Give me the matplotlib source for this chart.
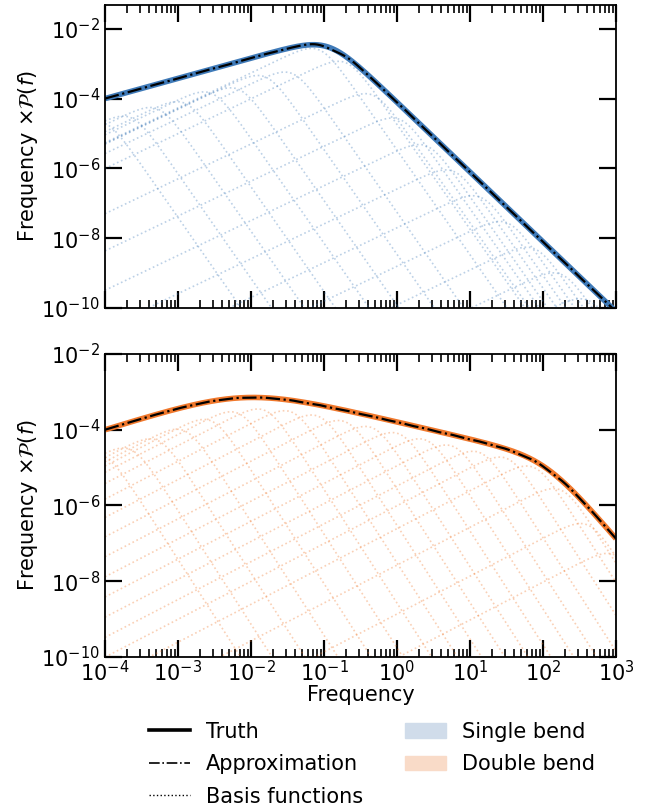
import numpy as np
import matplotlib
matplotlib.use("Agg")
import matplotlib.pyplot as plt
from matplotlib.lines import Line2D
from matplotlib.patches import Patch
from matplotlib.ticker import LogLocator, NullLocator, NullFormatter, FixedLocator

# ---- data ----
freq_range = [1e-4, 1e3]          # plotted frequency range
norm_point = [1e-4, 1e-4]         # f*P(f) at the left edge (both panels)

# single bending power law: low index, high index; bend frequency
single_indices = [0.42, 3.0]
single_bends = [0.115]

# double bending power law
double_indices = [0.4, 1.45, 3.25]
double_bends = [0.0081, 110.0]

# basis functions (SHO-like, 1/(1+(f/f_j)^4)), log-spaced centres
n_basis = 20
basis_lo, basis_hi = 1e-4, 1e3

y_ticks = [1e-10, 1e-8, 1e-6, 1e-4, 1e-2]

colors = {"single": "#3f7ab8", "double": "#f0782c"}
patch_colors = {"single": "#d0dcea", "double": "#f9dbc8"}


def bending_pl(f, indices, bends):
    p = f ** (-indices[0])
    for k, fb in enumerate(bends):
        p = p / (1.0 + (f / fb) ** (indices[k + 1] - indices[k]))
    return p


def normed(f, indices, bends):
    a = norm_point[1] / (norm_point[0] * bending_pl(np.array([norm_point[0]]), indices, bends)[0])
    return a * bending_pl(f, indices, bends)


def basis(f, fj):
    return 1.0 / (1.0 + (f / fj) ** 4)


f = np.geomspace(freq_range[0], freq_range[1], 800)
fj = np.geomspace(basis_lo, basis_hi, n_basis)

FS = 15
fig = plt.figure(figsize=(6.49, 8.10), dpi=100)
W, H = 649, 810
ax1 = fig.add_axes([105 / W, 1 - 308 / H, 511 / W, 303 / H])
ax2 = fig.add_axes([105 / W, 1 - 657 / H, 511 / W, 303 / H])

panels = [(ax1, single_indices, single_bends, "single"),
          (ax2, double_indices, double_bends, "double")]

for ax, ind, bends, key in panels:
    truth = normed(f, ind, bends)
    ptrue_j = normed(fj, ind, bends)
    M = basis(fj[:, None], fj[None, :])
    amps = np.linalg.solve(M, ptrue_j)
    approx = np.zeros_like(f)
    for a, c in zip(amps, fj):
        comp = a * basis(f, c)
        approx += comp
        if a > 0:
            ax.plot(f, f * comp, ls=":", color=colors[key], lw=1.2, alpha=0.35)
    ax.plot(f, f * truth, color=colors[key], lw=4, solid_capstyle="butt")
    ax.plot(f, f * approx, color="black", ls="-.", lw=1.6)
    ax.set_xscale("log")
    ax.set_yscale("log")
    ax.set_xlim(freq_range)
    ax.xaxis.set_major_locator(LogLocator(base=10, numticks=20))
    ax.xaxis.set_minor_locator(LogLocator(base=10, subs=np.arange(2, 10), numticks=20))
    ax.xaxis.set_minor_formatter(NullFormatter())
    ax.yaxis.set_major_locator(FixedLocator(y_ticks))
    ax.yaxis.set_minor_locator(NullLocator())
    ax.tick_params(which="both", direction="in", top=True, right=True, labelsize=FS)
    ax.tick_params(which="major", length=12, width=1.6)
    ax.tick_params(which="minor", length=6, width=1.2)
    ax.tick_params(axis="x", which="major", pad=2)
    for s in ax.spines.values():
        s.set_linewidth(1.3)
    ax.set_ylabel(r"Frequency $\times\mathcal{P}(f)$", fontsize=FS, labelpad=1)

ax1.set_ylim(1e-10, 4.8e-2)
ax2.set_ylim(1e-10, 1e-2)
ax1.tick_params(labelbottom=False)
ax2.set_xlabel("Frequency", fontsize=FS, labelpad=0)

handles = [Line2D([], [], color="black", lw=2.6),
           Line2D([], [], color="black", lw=1.2, ls="-."),
           Line2D([], [], color="black", lw=1.0, ls=":"),
           Patch(color=patch_colors["single"]),
           Patch(color=patch_colors["double"])]
labels = ["Truth", "Approximation", "Basis functions", "Single bend", "Double bend"]
fig.legend(handles, labels, ncol=2, frameon=False, fontsize=FS,
           loc="upper center", bbox_to_anchor=(0.573, 1 - 703 / H),
           handlelength=2.0, handletextpad=0.75, columnspacing=2.0,
           labelspacing=0.6)

fig.savefig("out.png", dpi=100)
